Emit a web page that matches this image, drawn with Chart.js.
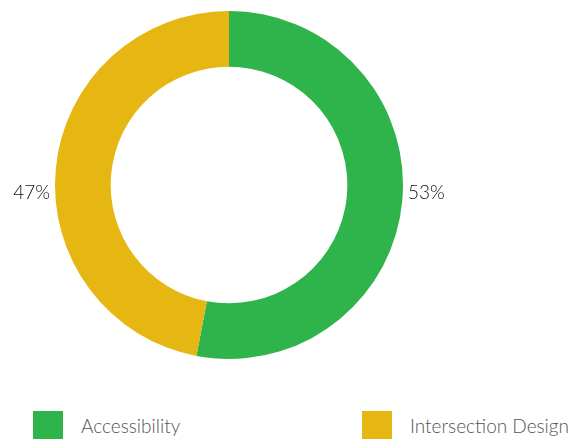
<!DOCTYPE html>
<html>
<head>
<meta charset="utf-8">
<script src="https://cdn.jsdelivr.net/npm/chart.js@4"></script>
<style>
  html, body { margin: 0; padding: 0; background: #fff; }
  #wrap { position: relative; width: 581px; height: 439px; overflow: hidden; }
  #c { position: absolute; left: 0; top: 0; }
  .leg { position: absolute; top: 411px; height: 28px; display: flex; align-items: center;
         font-family: Lato, "Open Sans", sans-serif; font-weight: 300; font-size: 19px; color: #555; }
  .leg span.box { display: inline-block; width: 30px; height: 28px; margin-right: 18px; }
</style>
</head>
<body>
<div id="wrap">
  <canvas id="c" width="460" height="370"></canvas>
</div>
<script>
// chart data
const labels = ['Accessibility', 'Intersection Design'];
const values = [53, 47];
const colors = ['#2EB44B', '#E6B712'];
const legendX = [33, 362];

const pctLabels = {
  id: 'pctLabels',
  afterDraw(chart) {
    const ctx = chart.ctx;
    const arcs = chart.getDatasetMeta(0).data;
    const cx = arcs[0].x, cy = arcs[0].y, r = arcs[0].outerRadius;
    ctx.save();
    ctx.font = '300 19px Lato, "Open Sans", sans-serif';
    ctx.fillStyle = '#111';
    ctx.textBaseline = 'middle';
    ctx.textAlign = 'left';
    ctx.fillText(values[0] + '%', cx + r + 5, cy + 8);
    ctx.textAlign = 'right';
    ctx.fillText(values[1] + '%', cx - r - 5, cy + 8);
    ctx.restore();
  }
};

new Chart(document.getElementById('c'), {
  type: 'doughnut',
  data: {
    labels: labels,
    datasets: [{
      data: values,
      backgroundColor: colors,
      borderWidth: 0,
    }]
  },
  options: {
    responsive: false,
    animation: false,
    cutout: '68%',
    layout: { padding: { left: 55, right: 57, top: 11, bottom: 11 } },
    plugins: { legend: { display: false }, tooltip: { enabled: false } },
  },
  plugins: [pctLabels]
});

// html legend
const wrap = document.getElementById('wrap');
labels.forEach((l, i) => {
  const d = document.createElement('div');
  d.className = 'leg';
  d.style.left = legendX[i] + 'px';
  d.innerHTML = '<span class="box" style="background:' + colors[i] + '"></span>' + l;
  wrap.appendChild(d);
});
</script>
</body>
</html>
